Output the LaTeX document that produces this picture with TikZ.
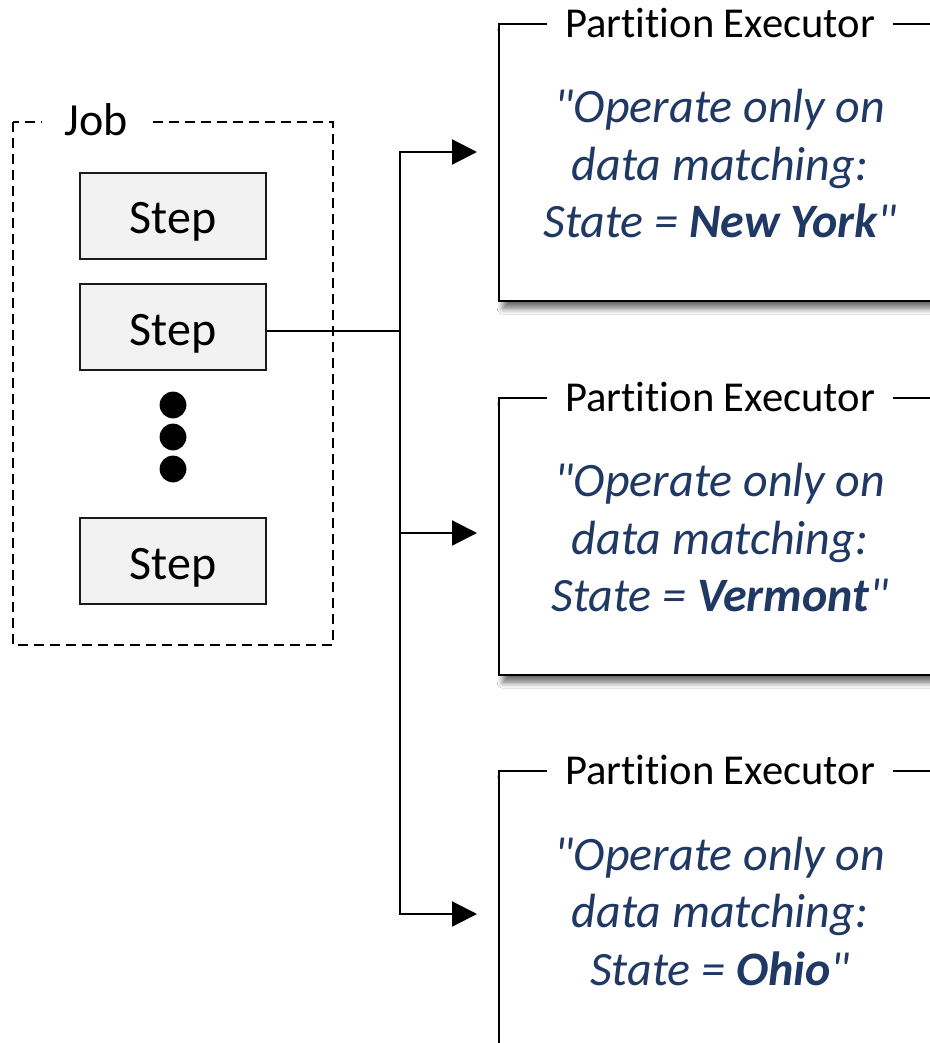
\documentclass[tikz,border=0pt]{standalone}
\usepackage{fontspec}
\setmainfont{Carlito}[Ligatures={TeX,CommonOff}]
\usetikzlibrary{arrows.meta,shadows.blur}
\definecolor{quoteblue}{HTML}{1F3864}
\definecolor{stepgray}{HTML}{F2F2F2}
\tikzset{
	stepbox/.style={draw=black!90, fill=stepgray, line width=1.1pt, minimum width=93pt, minimum height=43pt, inner sep=0pt, text height=18pt, text depth=0pt, font=\fontsize{24}{28}\selectfont},
	execbox/.style={draw, line width=1.2pt, fill=white, anchor=north west, minimum width=240pt, minimum height=138.5pt, blur shadow={shadow xshift=2pt, shadow yshift=-3.5pt, shadow blur radius=3pt, shadow blur steps=8, shadow opacity=60}},
	exectitle/.style={fill=white, inner xsep=9pt, inner ysep=1pt, font=\fontsize{21.3}{25}\selectfont},
	quotetext/.style={text=quoteblue, align=center, font=\fontsize{24}{28.75}\selectfont\itshape},
}
\begin{document}
	\begin{tikzpicture}[x=0.5pt, y=-0.5pt, line join=miter, >={Triangle[length=12.5pt, width=12.5pt]}]
		\clip (0,0) rectangle (930,1043);
		\fill[white] (0,0) rectangle (930,1043);
		\draw[line width=1.1pt, dash pattern=on 5pt off 3pt] (13,122) rectangle (333,645);
		\node[fill=white, inner xsep=11pt, inner ysep=0pt, font=\fontsize{23}{27}\selectfont] (job) at (96,120) {Job};
		\node[stepbox] (s1) at (173,216) {Step};
		\node[stepbox] (s2) at (173,327) {Step};
		\node[stepbox] (s3) at (173,561) {Step};
		\foreach \y in {405,437,469}
			\fill (173,\y) circle (6.7pt);
		\foreach \i/\y/\st in {1/23/New York, 2/397/Vermont, 3/770/Ohio} {
			\node[execbox] (e\i) at (498,\y) {};
			\node[exectitle] (t\i) at (720,\y) {Partition Executor};
			\node[quotetext] (q\i) at (720,\y+141) {\textquotedbl Operate only on\\data matching:\\State = \textbf{\st}\textquotedbl};
		}
		\coordinate (fork) at (400,331);
		\coordinate (a1) at (477,152);
		\coordinate (a2) at (477,533);
		\coordinate (a3) at (477,914);
		\draw[line width=1.1pt] (s2.east |- fork) -- (fork);
		\draw[line width=1.1pt, ->] (fork) |- (a1);
		\draw[line width=1.1pt, ->] (fork) |- (a2);
		\draw[line width=1.1pt, ->] (fork) |- (a3);
	\end{tikzpicture}
\end{document}
